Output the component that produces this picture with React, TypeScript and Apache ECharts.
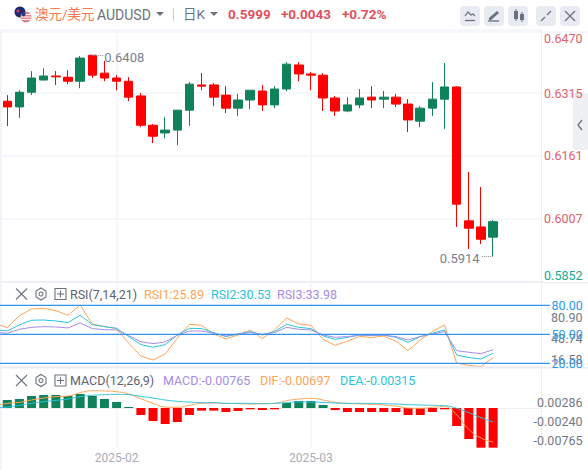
import React, { useEffect, useRef } from "react";
import * as echarts from "echarts";

const FONT = 'Roboto, "Noto Sans CJK SC", sans-serif';
const UP = "#10825a";
const DOWN = "#fe0000";
const GRID = "#f3f4f8";
const BORDER = "#eceef3";
const BLUE = "#2e96f0";
const ORANGE = "#ffa454";
const CYAN = "#2bc4dc";
const PURPLE = "#a78ce6";
const GREY = "#747985";

const categories = ["01-14", "01-15", "01-16", "01-17", "01-20", "01-21", "01-22", "01-23", "01-24", "01-27", "2025-02", "02-04", "02-05", "02-06", "02-07", "02-10", "02-11", "02-12", "02-13", "02-14", "02-17", "02-18", "02-19", "02-20", "02-21", "02-24", "2025-03", "03-04", "03-05", "03-06", "03-07", "03-10", "03-11", "03-12", "03-13", "03-14", "03-17", "03-18", "03-19", "03-20", "03-21", "03-24", "03-25", "03-26", "03-27", "03-28"];

const opens = [0.6295, 0.6281, 0.6317, 0.6347, 0.6357, 0.6354, 0.6344, 0.6408, 0.6364, 0.6352, 0.6344, 0.6308, 0.6236, 0.6217, 0.6224, 0.6273, 0.6335, 0.6335, 0.631, 0.6278, 0.6298, 0.632, 0.6286, 0.6325, 0.6384, 0.6362, 0.6359, 0.6303, 0.6271, 0.6286, 0.6305, 0.63, 0.6305, 0.6288, 0.6246, 0.6278, 0.63, 0.633, 0.6001, 0.5986, 0.5961];
const closes = [0.6281, 0.6317, 0.6352, 0.6357, 0.6355, 0.6344, 0.6401, 0.6359, 0.6352, 0.6344, 0.6305, 0.6236, 0.6209, 0.6224, 0.6273, 0.6337, 0.6332, 0.6305, 0.6278, 0.6298, 0.6322, 0.6286, 0.6325, 0.6386, 0.6362, 0.6359, 0.6303, 0.6271, 0.6286, 0.6303, 0.6298, 0.6305, 0.6288, 0.6249, 0.6278, 0.63, 0.633, 0.6042, 0.5983, 0.5956, 0.5999];
const lows = [0.6234, 0.6254, 0.631, 0.6347, 0.6335, 0.6337, 0.6327, 0.6352, 0.6344, 0.6322, 0.6295, 0.6231, 0.6192, 0.6204, 0.6187, 0.6234, 0.6322, 0.6283, 0.6266, 0.6259, 0.6276, 0.6271, 0.6278, 0.632, 0.6344, 0.6322, 0.6271, 0.6259, 0.6268, 0.6278, 0.6278, 0.6278, 0.6281, 0.6219, 0.6231, 0.6259, 0.6227, 0.5986, 0.5932, 0.5944, 0.5914];
const highs = [0.631, 0.6322, 0.6369, 0.6376, 0.6369, 0.6371, 0.6406, 0.6408, 0.6394, 0.6359, 0.6354, 0.6315, 0.6239, 0.6256, 0.6273, 0.6342, 0.6364, 0.634, 0.6332, 0.6313, 0.6322, 0.6335, 0.6332, 0.6391, 0.6391, 0.6367, 0.6364, 0.6308, 0.6305, 0.6325, 0.6332, 0.632, 0.6313, 0.63, 0.6283, 0.6342, 0.6389, 0.6332, 0.6121, 0.6084, 0.6003];
const priceTicks = [0.5852, 0.6007, 0.6161, 0.6315, 0.647];

const rsi1 = [61, 56.9, 69.3, 76.2, 76.9, 74.5, 69.7, 80.3, 60.7, 57.9, 55.9, 40.7, 27.6, 23.4, 29.7, 45.9, 60.3, 59.3, 50.3, 45.2, 49.3, 54.5, 45.5, 54.5, 66.9, 60.7, 59.3, 44.8, 38.6, 42.8, 47.9, 46.6, 48.3, 42.8, 33.1, 44.1, 52.8, 59.7, 20, 17.9, 16.6, 25.89];
const rsi2 = [54.8, 53.4, 59.7, 64.5, 64.8, 63.8, 62.1, 69.7, 60, 57.9, 56.2, 47.6, 39.3, 36.6, 39.3, 49.3, 56.2, 55.9, 51.7, 47.6, 50.3, 52.8, 49.3, 52.8, 60.3, 57.2, 55.9, 48.3, 44.8, 46.9, 49.3, 48.6, 49.3, 46.9, 41.7, 47.6, 51, 54.5, 28.6, 25.9, 24.5, 30.53];
const rsi3 = [52.1, 51, 55.2, 57.2, 57.9, 57.6, 56.6, 61.7, 55.9, 54.8, 54.5, 48.6, 42.4, 40.3, 42.1, 49, 53.4, 53.4, 51, 48.3, 50.3, 51.7, 50, 51.7, 57.2, 55.2, 54.5, 49.3, 46.9, 47.6, 49, 49, 49, 47.6, 44.1, 47.6, 50.3, 52.8, 33.1, 31.4, 30, 33.98];
const rsiLevels = [80, 50, 20];
const rsiTicks = [16.58, 48.74, 80.9];

const macdBars = [0.00154, 0.00174, 0.00231, 0.00251, 0.00251, 0.00231, 0.0027, 0.00231, 0.00174, 0.00116, 0.00019, -0.00135, -0.00251, -0.00309, -0.0027, -0.00135, -0.00051, -0.00051, -0.00077, -0.00058, -0.00026, -0.00039, -0.00026, 0.00096, 0.00135, 0.00135, 0.00058, -0.00039, -0.00077, -0.00077, -0.00077, -0.00077, -0.00077, -0.00135, -0.00135, -0.00077, -0.00026, -0.00347, -0.00598, -0.00765, -0.00765];
const dif = [-0.00003, 0.00041, 0.0006, 0.00105, 0.00143, 0.00169, 0.00181, 0.00245, 0.00283, 0.00277, 0.00264, 0.00219, 0.0013, 0.00041, -0.00029, -0.00035, 0.00003, 0.00041, 0.00048, 0.00041, 0.00035, 0.00029, 0.00035, 0.00041, 0.00092, 0.00124, 0.00137, 0.00105, 0.0006, 0.00041, 0.00029, 0.00022, 0.0001, -0.0001, -0.00048, -0.00054, -0.00035, -0.00022, -0.00181, -0.00455, -0.0062, -0.00697];
const dea = [-0.00041, -0.00029, 0.00003, 0.00041, 0.00073, 0.00099, 0.00124, 0.00169, 0.00194, 0.00207, 0.00213, 0.00207, 0.00175, 0.00143, 0.00105, 0.0008, 0.00067, 0.00054, 0.00054, 0.00041, 0.00041, 0.00041, 0.00035, 0.00041, 0.00054, 0.00067, 0.00067, 0.0006, 0.00048, 0.00041, 0.00041, 0.00041, 0.00035, 0.00029, 0.00016, 0.0001, 0.00003, -0.00003, -0.00054, -0.00137, -0.00232, -0.00315];
const macdTicks = [-0.00765, -0.0024, 0.00286];

const txt = (x: number, y: number, text: string, fill: string, fontSize = 13, fontWeight: any = "normal") => ({
  type: "text", x, y, silent: true, z: 60,
  style: { text, fill, fontSize, fontWeight, fontFamily: FONT, verticalAlign: "middle", align: "left" },
});
const seg = (x1: number, y1: number, x2: number, y2: number, stroke: string, lineWidth = 1) => ({
  type: "line", silent: true, shape: { x1, y1, x2, y2 }, style: { stroke, lineWidth },
});
const rect = (x: number, y: number, width: number, height: number, fill: string, r = 0) => ({
  type: "rect", silent: true, shape: { x, y, width, height, r }, style: { fill },
});
const tri = (cx: number, cy: number, fill: string) => ({
  type: "polygon", silent: true, shape: { points: [[cx - 4, cy - 2], [cx + 4, cy - 2], [cx, cy + 2]] }, style: { fill },
});
const panelIcons = (y: number) => [
  seg(16, y - 5.5, 27, y + 5.5, "#6d7280", 1.1),
  seg(27, y - 5.5, 16, y + 5.5, "#6d7280", 1.1),
  { type: "polygon", silent: true, shape: { points: [[41, y - 6], [46, y - 3], [46, y + 3], [41, y + 6], [36, y + 3], [36, y - 3]] }, style: { fill: "none", stroke: "#6d7280", lineWidth: 1.1 } },
  { type: "circle", silent: true, shape: { cx: 41, cy: y, r: 2 }, style: { fill: "none", stroke: "#6d7280", lineWidth: 1.1 } },
  { type: "rect", silent: true, shape: { x: 55, y: y - 5.5, width: 11, height: 11 }, style: { fill: "none", stroke: "#6d7280", lineWidth: 1.1 } },
  seg(57, y, 64, y, "#6d7280", 1.1),
  seg(60.5, y - 3.5, 60.5, y + 3.5, "#6d7280", 1.1),
];
const ICON = "#6a7080";
const graphics: any[] = [
  rect(0, 31, 588, 2, "#f6f7fa"),
  rect(0, 31, 1.5, 439, "#eef1f8"),
  rect(0, 282, 588, 1.2, BORDER),
  rect(0, 367, 588, 1.5, BORDER),
  { type: "circle", silent: true, shape: { cx: 20, cy: 12, r: 5.5 }, style: { fill: "#1d2a6d" } },
  { type: "circle", silent: true, shape: { cx: 18, cy: 11, r: 1.5 }, style: { fill: "#d8404c" } },
  { type: "circle", silent: true, shape: { cx: 26, cy: 17, r: 5.5 }, style: { fill: "#e9808c" } },
  seg(21, 14.5, 31, 14.5, "#fff", 1),
  seg(20.8, 17, 31.2, 17, "#fff", 1),
  seg(21.5, 19.5, 30.5, 19.5, "#fff", 1),
  { type: "circle", silent: true, shape: { cx: 23.5, cy: 14, r: 2.2 }, style: { fill: "#2a3a80" } },
  txt(35, 14, "澳元/美元", "#f5784f", 13.5),
  txt(97, 15, "AUDUSD", "#6b7280", 14),
  tri(160, 14, "#6b7280"),
  seg(173.5, 8, 173.5, 21, "#c9ccd4", 1),
  txt(183, 14, "日K", "#6b7280", 13.5),
  tri(214, 14, "#6b7280"),
  txt(228, 14, "0.5999", "#e2525c", 13.5, "bold"),
  txt(281, 14, "+0.0043", "#e2525c", 13.5, "bold"),
  txt(342, 14, "+0.72%", "#e2525c", 13.5, "bold"),
  rect(460, 6, 20, 20, "#e9ebf2", 4),
  rect(484, 6, 20, 20, "#e9ebf2", 4),
  rect(508, 6, 20, 20, "#e9ebf2", 4),
  rect(536, 6, 20, 20, "#e9ebf2", 4),
  rect(560, 6, 20, 20, "#e9ebf2", 4),
  { type: "polyline", silent: true, shape: { points: [[465, 16], [468, 12], [471, 15], [473, 14], [475, 16]] }, style: { fill: "none", stroke: ICON, lineWidth: 1.2 } },
  seg(465, 20.5, 475, 20.5, ICON, 1.3),
  { type: "polygon", silent: true, shape: { points: [[489, 18], [497, 11], [499, 13], [491, 20], [489, 20]] }, style: { fill: ICON } },
  seg(488, 21, 499, 21, ICON, 1.3),
  rect(514, 11, 4, 8, ICON),
  seg(516, 9, 516, 21, ICON, 1),
  rect(520, 14, 4, 6, ICON),
  seg(522, 12, 522, 22, ICON, 1),
  seg(541, 21, 545, 17, ICON, 1.3),
  seg(547, 15, 551, 11, ICON, 1.3),
  seg(565, 11, 575, 21, ICON, 1.2),
  seg(575, 11, 565, 21, ICON, 1.2),
  rect(572.7, 93, 16, 57, "#eef0f4", 3),
  { type: "polyline", silent: true, shape: { points: [[582, 120], [578, 125], [582, 130]] }, style: { fill: "none", stroke: "#6d7280", lineWidth: 1.3 } },
  ...panelIcons(294),
  txt(70, 294, "RSI(7,14,21)", "#5c6270", 12.5),
  txt(144, 294, "RSI1:25.89", ORANGE, 12.5),
  txt(211, 294, "RSI2:30.53", CYAN, 12.5),
  txt(277, 294, "RSI3:33.98", PURPLE, 12.5),
  ...panelIcons(380.5),
  txt(70, 380.5, "MACD(12,26,9)", "#5c6270", 12.5),
  txt(163, 380.5, "MACD:-0.00765", PURPLE, 12.5),
  txt(260, 380.5, "DIF:-0.00697", ORANGE, 12.5),
  txt(340, 380.5, "DEA:-0.00315", CYAN, 12.5),
];

const isMonth = (_i: number, v: string) => v === "2025-02" || v === "2025-03";
const pad = (a: any[]) => ["-", ...a, "-", "-", "-", "-"];
const padTail = (a: any[]) => [...a, "-", "-", "-", "-"];

const GRID_LEFT = -4.88;
const GRID_W = 546.58;

function catAxis(gridIndex: number, showLabel: boolean) {
  return {
    type: "category", gridIndex, data: categories, boundaryGap: false,
    axisLine: { show: true, lineStyle: { color: BORDER } },
    axisTick: { show: false },
    axisLabel: { show: showLabel, interval: isMonth, margin: 4, color: "#a8adb8", fontSize: 12, fontFamily: FONT },
    splitLine: { show: true, interval: isMonth, lineStyle: { color: GRID, width: 1.5 } },
  };
}
const labelAxis = (gridIndex: number, min: number, max: number, customValues: number[], digits: number, color: any, split = false, extra: any = {}) => ({
  type: "value", gridIndex, position: "right", min, max, scale: true,
  axisLine: { show: true, lineStyle: { color: BORDER } },
  axisTick: { show: false, customValues },
  splitLine: { show: split, lineStyle: { color: GRID, width: 1.5 } },
  axisLabel: {
    customValues, align: "right", margin: 40.8, color, fontSize: 12.5, fontFamily: FONT,
    formatter: (v: number) => v.toFixed(digits), ...extra,
  },
});
const hiddenY = (gridIndex: number, min: number, max: number) => ({ type: "value", gridIndex, min, max, scale: true, show: false, splitLine: { show: false } });
const lineS = (name: string, data: any[], color: string, xAxisIndex: number, yAxisIndex: number, smooth: boolean) => ({
  name, type: "line", data, xAxisIndex, yAxisIndex, smooth, symbol: "none",
  lineStyle: { color, width: 1 }, itemStyle: { color }, connectNulls: false,
});

function buildOption() {
  const candles = opens.map((o, i) => [o, closes[i], lows[i], highs[i]]);
  const highIdx = 8, lowIdx = 41;
  const leader = { color: "#8a8f9c", type: "dotted" as const, width: 1 };
  return {
    animation: false,
    backgroundColor: "#fff",
    textStyle: { fontFamily: FONT },
    graphic: graphics,
    grid: [
      { left: GRID_LEFT, width: GRID_W, top: 30, height: 251.5, outerBoundsMode: "none" },
      { left: GRID_LEFT, width: GRID_W, top: 284, height: 82, outerBoundsMode: "none" },
      { left: GRID_LEFT, width: GRID_W, top: 369, height: 79, outerBoundsMode: "none" },
      { left: 0, width: 550, top: 284, height: 82, outerBoundsMode: "none" },
    ],
    xAxis: [
      catAxis(0, false), catAxis(1, false), catAxis(2, true),
      { type: "value", gridIndex: 3, min: 0, max: 1, show: false, splitLine: { show: false } },
    ],
    yAxis: [
      labelAxis(0, 0.5852, 0.647, priceTicks, 4, (v: any) => (Math.abs(+v - 0.5852) < 1e-6 ? "#1aa88a" : "#e0606a"), true, { verticalAlignMaxLabel: "top", verticalAlignMinLabel: "bottom", padding: [2, 0, 0, 0] }),
      hiddenY(1, 17.2, 102.03),
      labelAxis(1, 7.22, 131, rsiTicks, 2, GREY),
      hiddenY(2, -0.00771, 0.00751),
      hiddenY(2, -0.00811, 0.00697),
      labelAxis(2, -0.009904, 0.012356, macdTicks, 5, GREY),
      hiddenY(3, 17.2, 102.03),
    ],
    series: [
      {
        name: "AUDUSD", type: "candlestick", xAxisIndex: 0, yAxisIndex: 0, barWidth: 9,
        data: pad(candles).map((c) => (c === "-" ? ["-", "-", "-", "-"] : c)),
        itemStyle: { color: UP, color0: DOWN, borderColor: UP, borderColor0: DOWN, borderWidth: 1 },
        markPoint: {
          symbol: "circle", symbolSize: 1, itemStyle: { color: "rgba(0,0,0,0)" },
          data: [
            { coord: [categories[highIdx], 0.6408], value: 0.6408, label: { position: "right", distance: 11.5, offset: [0, 2], formatter: "0.6408", color: "#7b8190", fontSize: 13, fontFamily: FONT } },
            { coord: [categories[lowIdx], 0.5914], value: 0.5914, label: { position: "left", distance: 13, offset: [0, 2], formatter: "0.5914", color: "#7b8190", fontSize: 13, fontFamily: FONT } },
          ],
        },
        markLine: {
          silent: true, symbol: "none", label: { show: false }, lineStyle: leader,
          data: [
            [{ coord: [categories[highIdx], 0.6408] }, { coord: [categories[highIdx + 1], 0.6408] }],
            [{ coord: [categories[lowIdx], 0.5914] }, { coord: [categories[lowIdx - 1], 0.5914] }],
          ],
        },
      },
      lineS("RSI1", padTail(rsi1), ORANGE, 1, 1, false),
      lineS("RSI2", padTail(rsi2), CYAN, 1, 1, false),
      lineS("RSI3", padTail(rsi3), PURPLE, 1, 1, false),
      ...rsiLevels.map((lv) => ({
        name: "L" + lv, type: "line", xAxisIndex: 3, yAxisIndex: 6, symbol: "none", silent: true,
        data: [[0, lv], [1, lv]], lineStyle: { color: BLUE, width: 1.2 },
        endLabel: { show: true, formatter: () => lv.toFixed(2), color: BLUE, fontSize: 12.5, fontFamily: FONT, distance: 1.5 },
      })),
      {
        name: "MACD", type: "bar", xAxisIndex: 2, yAxisIndex: 3, barWidth: 9, data: pad(macdBars),
        itemStyle: { color: (p: any) => (p.value >= 0 ? UP : DOWN) },
      },
      lineS("DIF", padTail(dif), ORANGE, 2, 4, true),
      lineS("DEA", padTail(dea), CYAN, 2, 4, true),
    ],
  };
}

export default function App() {
  const ref = useRef<HTMLDivElement>(null);
  useEffect(() => {
    document.body.style.margin = "0";
    const chart = echarts.init(ref.current!, undefined, { renderer: "svg" });
    chart.setOption(buildOption() as any);
    return () => chart.dispose();
  }, []);
  return <div ref={ref} style={{ width: 588, height: 470 }} />;
}
